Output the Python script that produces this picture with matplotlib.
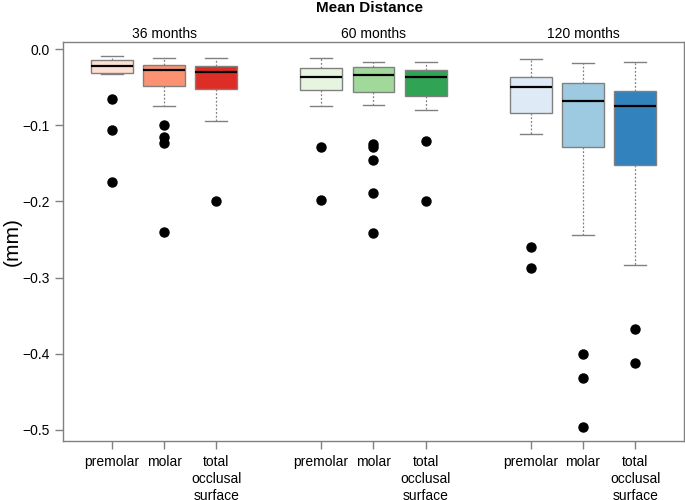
import matplotlib
matplotlib.use('Agg')
import matplotlib.pyplot as plt

plt.rcParams['font.family'] = ['Liberation Sans', 'DejaVu Sans']

# datos (mm)
grupos = ['36 months', '60 months', '120 months']
dientes = ['premolar', 'molar', 'total\nocclusal\nsurface']
posiciones = [1, 2, 3, 5, 6, 7, 9, 10, 11]

bigote_sup = [-0.009, -0.011, -0.012, -0.012, -0.017, -0.017, -0.013, -0.018, -0.017]
q3 = [-0.014, -0.021, -0.022, -0.025, -0.023, -0.028, -0.037, -0.045, -0.055]
mediana = [-0.022, -0.027, -0.030, -0.036, -0.034, -0.036, -0.050, -0.068, -0.075]
q1 = [-0.031, -0.049, -0.052, -0.054, -0.056, -0.062, -0.084, -0.129, -0.152]
bigote_inf = [-0.033, -0.075, -0.095, -0.075, -0.073, -0.080, -0.112, -0.244, -0.283]
atipicos = [
    [-0.065, -0.106, -0.175],
    [-0.099, -0.116, -0.123, -0.240],
    [-0.199],
    [-0.129, -0.198],
    [-0.125, -0.128, -0.145, -0.189, -0.242],
    [-0.121, -0.199],
    [-0.260, -0.287],
    [-0.400, -0.432, -0.496],
    [-0.367, -0.412],
]
colores = ['#FEE0D2', '#FC9272', '#DE2D26',
           '#E5F5E0', '#A1D99B', '#31A354',
           '#DEEBF7', '#9ECAE1', '#3182BD']

stats = []
for i in range(len(posiciones)):
    stats.append({'whishi': bigote_sup[i], 'q3': q3[i], 'med': mediana[i],
                  'q1': q1[i], 'whislo': bigote_inf[i], 'fliers': atipicos[i]})

gris = '#808080'
fig = plt.figure(figsize=(6.85, 5), dpi=100)
ax = fig.add_axes([0.092, 0.118, 0.9065, 0.7986])

cajas = ax.bxp(stats, positions=posiciones, widths=0.8, patch_artist=True,
               boxprops=dict(edgecolor=gris, linewidth=1),
               medianprops=dict(color='black', linewidth=1.6),
               whiskerprops=dict(color=gris, linestyle=(0, (1.5, 1.5)), linewidth=0.9),
               capprops=dict(color=gris, linewidth=1),
               flierprops=dict(marker='o', markerfacecolor='black', markeredgecolor='black',
                               markersize=6.5))
for caja, c in zip(cajas['boxes'], colores):
    caja.set_facecolor(c)
for cap in cajas['caps']:
    x = cap.get_xdata()
    m = (x[0] + x[1]) / 2
    cap.set_xdata([m - 0.21, m + 0.21])

ax.set_xlim(0.07, 11.93)
ax.set_ylim(-0.5148, 0.0098)
ax.set_xticks(posiciones)
ax.set_xticklabels(dientes * 3, fontsize=10, va='top', linespacing=1.3)
ax.set_yticks([0.0, -0.1, -0.2, -0.3, -0.4, -0.5])
ax.set_yticklabels(['0.0', '\u22120.1', '\u22120.2', '\u22120.3', '\u22120.4', '\u22120.5'], fontsize=10)
ax.tick_params(colors=gris, labelcolor='black', length=6, width=1)
ax.tick_params(axis='x', pad=4)
for s in ax.spines.values():
    s.set_color(gris)
    s.set_linewidth(1)

ax.set_ylabel('(mm)', fontsize=15)
ax.yaxis.set_label_coords(-0.066, 0.5)
for g, centro in zip(grupos, [2, 6, 10]):
    ax.text(centro, 1.0093, g, transform=ax.get_xaxis_transform(), ha='center', va='baseline', fontsize=10)
fig.text(0.54, 0.998, 'Mean Distance', ha='center', va='top', fontsize=11, fontweight='bold')

plt.savefig('out.png', dpi=100)
